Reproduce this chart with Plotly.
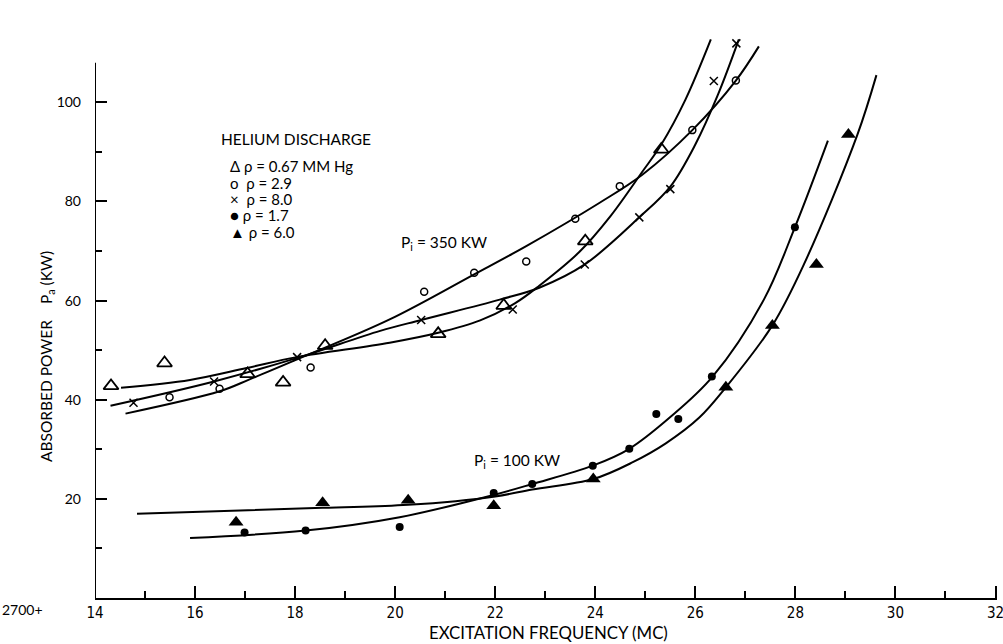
import plotly.graph_objects as go

# ---------------- data ----------------
# P_i = 350 KW group
tri_open_f = [14.32, 15.39, 17.05, 17.76, 18.60, 20.86, 22.17, 23.80, 25.32]
tri_open_p = [42.8, 47.4, 45.2, 43.5, 50.9, 53.3, 59.0, 72.0, 90.5]

circ_open_f = [15.49, 16.49, 18.31, 20.58, 21.58, 22.62, 23.60, 24.49, 25.94, 26.81]
circ_open_p = [40.5, 42.2, 46.5, 61.8, 65.6, 67.9, 76.5, 83.1, 94.4, 104.4]

cross_f = [14.77, 16.38, 18.04, 20.52, 22.35, 23.79, 24.88, 25.50, 26.37, 26.82]
cross_p = [39.4, 43.7, 48.6, 56.1, 58.2, 67.3, 76.8, 82.5, 104.3, 111.9]

# P_i = 100 KW group
dot_f = [16.99, 18.21, 20.09, 21.97, 22.74, 23.95, 24.68, 25.22, 25.66, 26.33, 27.99]
dot_p = [13.2, 13.6, 14.3, 21.2, 23.0, 26.7, 30.1, 37.1, 36.1, 44.7, 74.8]

tri_fill_f = [16.82, 18.55, 20.26, 21.97, 23.96, 26.61, 27.54, 28.42, 29.06]
tri_fill_p = [15.3, 19.2, 19.7, 18.6, 24.0, 42.5, 55.0, 67.3, 93.5]

# hand-drawn fitted curves (knots)
curve_tri_f = [14.52, 15.90, 17.03, 18.03, 19.89, 20.86, 21.70, 22.40, 22.88, 23.68, 24.30, 24.94, 25.32, 25.80, 26.31]
curve_tri_p = [42.4, 44.0, 46.4, 48.6, 51.5, 53.5, 56.0, 59.5, 63.0, 69.8, 77.0, 86.0, 91.5, 100.5, 112.7]

curve_circ_f = [14.61, 16.49, 17.09, 18.03, 19.89, 21.58, 22.62, 24.08, 24.94, 25.94, 26.81, 27.27]
curve_circ_p = [37.2, 41.7, 44.1, 48.1, 56.2, 65.3, 71.0, 79.7, 85.4, 94.4, 104.4, 111.3]

curve_cross_f = [14.31, 16.38, 18.03, 19.70, 20.52, 22.09, 22.88, 23.79, 24.88, 25.50, 26.00, 26.45, 26.87]
curve_cross_p = [38.8, 43.7, 48.4, 53.9, 56.1, 60.2, 62.6, 67.3, 76.8, 83.0, 91.5, 101.5, 112.7]

curve_dot_f = [15.90, 18.21, 20.09, 21.97, 22.74, 23.95, 24.68, 25.50, 26.34, 27.37, 27.99, 28.65]
curve_dot_p = [12.1, 13.6, 16.3, 20.8, 23.0, 26.7, 30.1, 36.5, 44.6, 60.2, 74.8, 92.3]

curve_trif_f = [14.84, 18.55, 20.26, 22.00, 22.74, 23.96, 24.75, 25.41, 26.08, 26.61, 27.54, 28.17, 29.24, 29.62]
curve_trif_p = [17.0, 18.2, 18.8, 20.5, 21.9, 24.0, 27.4, 31.2, 36.4, 42.5, 55.0, 67.3, 93.5, 105.5]

x_ticks = [14, 16, 18, 20, 22, 24, 26, 28, 30, 32]
x_minor = [15, 17, 19, 21, 23, 25, 27, 29, 31]
y_ticks = [20, 40, 60, 80, 100]
y_minor = [10, 30, 50, 70, 90]

legend_title = "HELIUM DISCHARGE"
legend_lines = ["\u0394 \u03c1 = 0.67 MM Hg", "o  \u03c1 = 2.9", "\u00d7  \u03c1 = 8.0",
                "\u25cf \u03c1 = 1.7", "\u25b2 \u03c1 = 6.0"]
legend_line_p = [87.1, 83.8, 80.5, 77.2, 73.9]

FONT = "Lato, 'Open Sans', sans-serif"
TXT = dict(family=FONT, size=15.5, color="black")
LEG = dict(family=FONT, size=15, color="black")

fig = go.Figure()

line_style = dict(color="black", width=2, shape="spline", smoothing=1.0)
for cf, cp in [(curve_tri_f, curve_tri_p), (curve_circ_f, curve_circ_p),
               (curve_cross_f, curve_cross_p), (curve_dot_f, curve_dot_p),
               (curve_trif_f, curve_trif_p)]:
    fig.add_trace(go.Scatter(x=cf, y=cp, mode="lines", line=line_style,
                             showlegend=False, hoverinfo="skip"))

fig.add_trace(go.Scatter(x=tri_open_f, y=tri_open_p, mode="markers", showlegend=False,
                         marker=dict(symbol="triangle-up-open", size=13, color="black",
                                     line=dict(width=1.8, color="black"))))
fig.add_trace(go.Scatter(x=circ_open_f, y=circ_open_p, mode="markers", showlegend=False,
                         marker=dict(symbol="circle-open", size=7, color="black",
                                     line=dict(width=1.5, color="black"))))
fig.add_trace(go.Scatter(x=cross_f, y=cross_p, mode="markers", showlegend=False,
                         marker=dict(symbol="x-thin-open", size=8, color="black",
                                     line=dict(width=1.5, color="black"))))
fig.add_trace(go.Scatter(x=dot_f, y=dot_p, mode="markers", showlegend=False,
                         marker=dict(symbol="circle", size=8, color="black")))
fig.add_trace(go.Scatter(x=tri_fill_f, y=tri_fill_p, mode="markers", showlegend=False,
                         marker=dict(symbol="triangle-up", size=13, color="black")))

ann = []
ann.append(dict(x=16.47, y=92.7, text=legend_title, xanchor="left", yanchor="middle",
                showarrow=False, font=TXT))
for t, yv in zip(legend_lines, legend_line_p):
    ann.append(dict(x=16.65, y=yv, text=t, xanchor="left", yanchor="middle",
                    showarrow=False, font=LEG))
ann.append(dict(x=20.07, y=71.6, text="P<sub>i</sub> = 350 KW", xanchor="left", yanchor="middle",
                showarrow=False, font=TXT))
ann.append(dict(x=21.54, y=27.7, text="P<sub>i</sub> = 100 KW", xanchor="left", yanchor="middle",
                showarrow=False, font=TXT))
# texts outside the plotting area (paper coordinates)
ann.append(dict(xref="paper", yref="paper", x=-0.0809, y=-0.0211, text="2700+",
                xanchor="center", yanchor="middle", showarrow=False,
                font=dict(family=FONT, size=14, color="black")))
ann.append(dict(xref="paper", yref="paper", x=0.5033, y=-0.0599, text="EXCITATION FREQUENCY (MC)",
                xanchor="center", yanchor="middle", showarrow=False,
                font=dict(family=FONT, size=16.8, color="black")))
ann.append(dict(xref="paper", yref="paper", x=-0.0532, y=0.4243,
                text="ABSORBED POWER    P<sub>a</sub> (KW)", textangle=-90,
                xanchor="center", yanchor="middle", showarrow=False, font=TXT))

fig.update_layout(
    width=1003, height=644,
    margin=dict(l=95, r=6, t=30, b=46),
    paper_bgcolor="white", plot_bgcolor="white",
    showlegend=False,
    annotations=ann,
    shapes=[dict(type="line", xref="x", yref="y", x0=14, x1=14, y0=0, y1=108,
                 line=dict(color="black", width=2))],
    xaxis=dict(range=[14, 32.03], showline=True, linecolor="black", linewidth=2,
               automargin=False,
               ticks="inside", ticklen=12, tickwidth=1.5, tickcolor="black",
               tickvals=x_ticks, ticktext=[str(v) for v in x_ticks],
               tickfont=dict(family="'Liberation Sans Narrow', 'DejaVu Sans Condensed', Lato, sans-serif",
                             size=15, color="black"),
               ticklabeloverflow="allow",
               showgrid=False, zeroline=False,
               minor=dict(tickvals=x_minor, ticks="inside", ticklen=7, tickwidth=1.5,
                          tickcolor="black", showgrid=False)),
    yaxis=dict(range=[0, 114.6], showline=False, automargin=False,
               ticks="inside", ticklen=12, tickwidth=1.5, tickcolor="black",
               tickvals=y_ticks, ticktext=[str(v) for v in y_ticks],
               tickfont=dict(family=FONT, size=14, color="black"),
               ticklabelstandoff=13,
               showgrid=False, zeroline=False,
               minor=dict(tickvals=y_minor, ticks="inside", ticklen=7, tickwidth=1.5,
                          tickcolor="black", showgrid=False)),
)

fig.write_html("out.html")
